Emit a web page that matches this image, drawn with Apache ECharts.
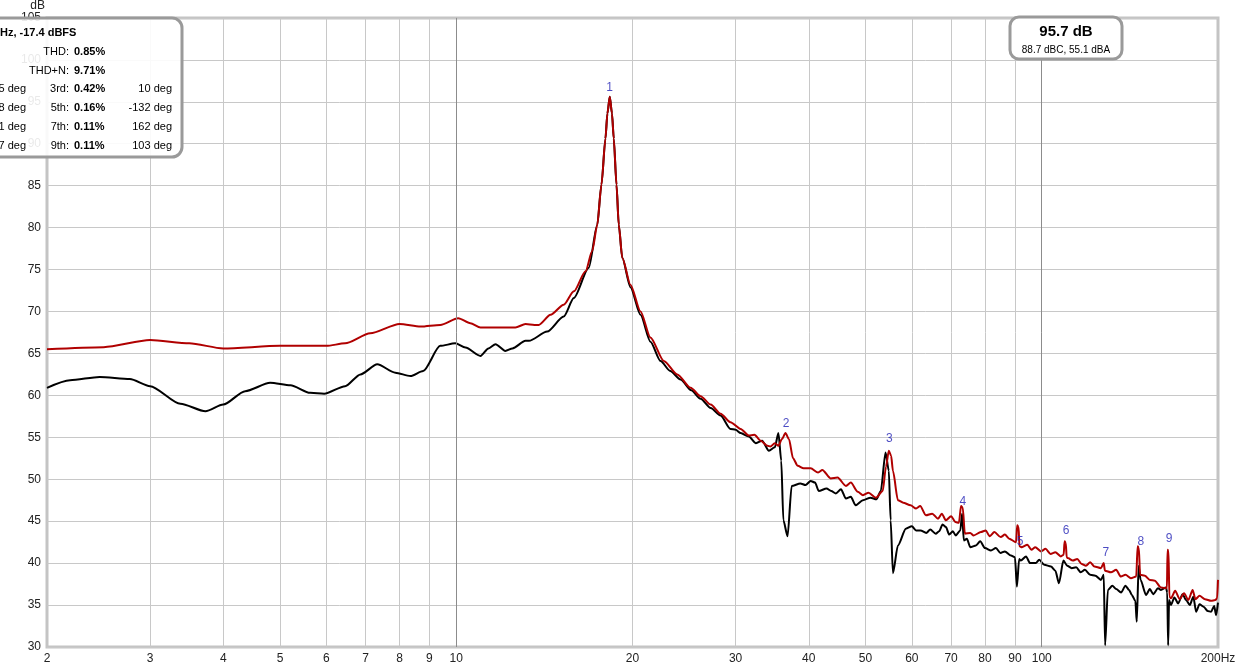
<!DOCTYPE html>
<html><head><meta charset="utf-8">
<script src="https://cdn.jsdelivr.net/npm/echarts@6/dist/echarts.min.js"></script>
<style>html,body{margin:0;padding:0;background:#fff}#c{width:1240px;height:669px}</style>
</head><body><div id="c"></div>
<script>
// ---- data (Hz, dB) ----
const redFreq = [2.0,2.5,3.0,3.5,4.0,5.0,6.0,6.46,7.13,8.0,8.69,9.39,10.08,10.57,11.0,11.9,12.62,13.13,13.6,13.83,14.49,15.26,15.88,16.63,17.07,17.41,17.70,17.98,18.12,18.29,18.45,18.58,18.78,18.95,19.21,19.84,20.64,21.46,22.62,23.85,25.14,26.14,27.2,28.28,29.4,30.6,31.6,32.3,33.1,34.0,34.4,35.0,35.5,36.0,36.5,37.0,37.6,38.3,39.2,40.3,41.5,42.2,43.6,44.8,46.3,47.2,48.5,49.5,50.6,52.1,53.5,54.2,54.8,55.3,55.7,56.8,58.0,59.7,61.0,62.0,63.4,65.0,66.5,67.5,68.6,70.0,71.2,72.2,72.8,73.3,73.9,75.5,76.5,78.7,80.2,81.5,83.0,85.1,86.5,88.0,90.4,90.8,91.3,91.6,92.5,94.5,96.0,97.5,99.7,101.5,103.5,105.5,107.8,109.0,109.4,109.9,110.3,110.8,113.0,115.0,117.0,119.0,121.0,123.0,126.2,127.6,128.2,131.3,134.0,136.5,139.0,142.0,145.0,145.8,146.5,147.2,150.0,153.0,156.0,159.8,163.6,164.0,164.6,165.2,166.2,169.0,172.0,175.0,178.0,181.0,183.0,186.0,190.0,194.6,198.0,199.3,200.0];
const redDb = [65.5,65.75,66.6,66.2,65.6,65.9,65.9,66.2,67.4,68.5,68.2,68.4,69.2,68.6,68.1,68.1,68.1,68.5,68.4,68.4,69.6,70.8,72.4,74.8,77.2,80.3,85.1,90.6,93.6,95.6,93.6,90.6,85.1,80.3,76.4,73.2,70.0,66.9,64.1,62.5,60.9,59.9,58.9,57.8,56.8,56.0,55.2,55.3,54.6,54.0,53.9,54.3,54.0,54.8,55.5,54.8,52.5,51.6,51.3,51.3,50.8,51.1,50.1,50.2,49.2,49.6,48.5,48.1,48.4,47.8,48.6,51.5,53.4,52.8,51.0,47.5,47.2,46.9,46.5,46.8,45.7,45.9,45.3,45.9,45.1,45.6,44.9,44.8,46.8,46.6,43.5,43.6,43.3,43.7,43.9,43.2,43.7,43.1,43.4,42.9,42.5,44.5,44.3,42.0,41.9,42.2,41.6,41.9,41.4,41.7,41.1,41.3,40.8,41.0,42.6,42.4,40.7,40.6,40.3,40.5,39.9,39.7,40.1,39.6,39.4,40.0,39.1,38.9,39.2,38.4,38.6,38.2,38.4,42.0,41.8,38.6,38.5,38.0,37.9,37.1,37.0,41.6,41.5,36.0,35.8,36.7,35.7,36.4,35.6,36.8,35.7,36.1,35.7,35.5,35.6,35.8,38.0];
const blackFreq = [2.0,2.19,2.46,2.77,3.0,3.38,3.73,4.0,4.36,4.81,5.21,5.63,5.95,6.46,6.86,7.33,7.87,8.35,8.78,9.39,9.96,10.37,11.0,11.35,11.67,12.13,12.47,13.13,13.31,14.3,15.26,15.88,16.84,17.41,17.70,17.98,18.12,18.29,18.45,18.58,18.78,18.95,19.21,19.84,20.64,21.46,22.33,23.2,24.16,25.2,26.14,27.2,28.28,29.4,30.0,30.6,31.6,32.5,33.3,34.2,35.0,35.5,35.9,36.2,36.8,37.4,38.7,39.5,40.3,41.0,41.6,42.9,43.7,44.5,45.4,46.3,47.2,48.1,49.5,51.0,52.2,53.1,54.1,54.8,55.2,55.7,56.8,58.6,60.0,61.0,62.1,63.5,64.5,65.9,66.8,67.7,68.6,69.5,70.5,71.3,72.6,73.1,73.6,74.5,75.5,77.2,78.5,80.0,81.9,83.5,85.0,86.5,88.6,90.0,90.7,91.5,92.1,94.0,95.5,97.7,99.0,101.0,103.7,105.5,107.0,108.9,110.5,112.5,114.5,116.6,118.5,121.0,123.5,126.2,127.6,128.3,129.7,132.0,134.0,136.6,139.0,141.0,142.5,144.5,145.3,146.4,147.5,150.7,153.0,155.0,158.0,159.8,163.0,163.8,164.4,165.0,166.2,168.5,171.0,174.0,176.4,179.0,181.5,183.5,186.0,189.0,192.0,194.6,197.0,198.5,200.0];
const blackDb = [60.9,61.8,62.2,61.95,61.1,59.0,58.1,58.9,60.5,61.5,61.2,60.3,60.2,61.1,62.5,63.7,62.7,62.3,62.9,65.9,66.2,65.7,64.7,65.6,66.1,65.3,65.6,66.5,66.5,67.6,69.4,71.6,75.2,80.3,85.1,90.6,93.6,95.6,93.6,90.6,85.1,80.3,76.4,72.9,69.6,66.4,64.1,62.9,61.9,60.6,59.6,58.5,57.6,56.0,55.9,55.5,55.1,54.3,54.6,53.4,53.8,55.5,52.2,45.1,43.2,49.2,49.5,49.3,49.8,49.6,48.6,48.9,48.6,48.3,48.8,47.7,47.9,46.9,47.5,47.8,47.6,48.6,53.2,51.0,45.1,38.8,42.1,44.1,44.4,43.9,43.9,43.6,44.0,43.5,43.8,44.6,44.3,43.4,43.8,43.3,43.9,45.9,42.7,42.9,41.9,42.1,42.6,41.8,41.5,41.8,41.2,41.4,40.9,40.7,37.2,40.5,40.3,40.8,40.0,40.0,40.4,39.8,39.6,39.1,37.6,40.3,39.7,39.4,39.5,38.9,39.2,38.6,38.5,38.0,38.6,30.2,36.8,37.3,36.9,36.5,37.3,36.8,36.2,35.5,33.0,39.7,38.0,36.2,36.9,36.3,37.0,36.8,37.1,36.5,30.2,35.6,35.0,35.9,35.2,36.3,35.6,35.0,36.0,34.2,35.1,34.8,34.3,34.2,34.9,33.8,35.3];
const harmonicNames = ['1','2','3','4','5','6','7','8','9'];
const harmonicLabelFreq = [18.27,36.6,54.9,73.3,91.8,110,128.7,147.6,165];
const harmonicLabelDb = [96.7,56.6,54.8,47.3,42.6,43.9,41.2,42.6,42.9];
const xTickValues = [2,3,4,5,6,7,8,9,10,20,30,40,50,60,70,80,90,100,200];
const xGridValues = [3,4,5,6,7,8,9,10,20,30,40,50,60,70,80,90,100];
const xDarkGrid = [10,100];
const yMin = 30, yMax = 105, yStep = 5;
const infoTitle = 'Hz, -17.4 dBFS';
const thdText = ['THD:', '0.85%'];
const thdnText = ['THD+N:', '9.71%'];
const harmRows = [['5 deg','3rd:','0.42%','10 deg'],['8 deg','5th:','0.16%','-132 deg'],['1 deg','7th:','0.11%','162 deg'],['7 deg','9th:','0.11%','103 deg']];
const splText = '95.7 dB';
const splSub = '88.7 dBC, 55.1 dBA';

const zip = (a,b) => a.map((v,i)=>[v,b[i]]);
const FONT = 'Liberation Sans, Arial, sans-serif';

const chart = echarts.init(document.getElementById('c'), null, {renderer:'canvas'});

const leftTexts = [];
leftTexts.push({type:'text', x:0, y:33, style:{text:infoTitle, font:'bold 11px '+FONT, fill:'#000', verticalAlign:'middle'}});
function rowText(y, a, b){
  leftTexts.push({type:'text', x:69, y:y, style:{text:a, font:'11px '+FONT, fill:'#000', align:'right', verticalAlign:'middle'}});
  leftTexts.push({type:'text', x:74, y:y, style:{text:b, font:'bold 11px '+FONT, fill:'#000', align:'left', verticalAlign:'middle'}});
}
rowText(52, thdText[0], thdText[1]);
rowText(71, thdnText[0], thdnText[1]);
const rowY = [89,108,127,146];
harmRows.forEach((r,i)=>{
  leftTexts.push({type:'text', x:26, y:rowY[i], style:{text:r[0], font:'11px '+FONT, fill:'#000', align:'right', verticalAlign:'middle'}});
  rowText(rowY[i], r[1], r[2]);
  leftTexts.push({type:'text', x:172, y:rowY[i], style:{text:r[3], font:'11px '+FONT, fill:'#000', align:'right', verticalAlign:'middle'}});
});

const option = {
  animation:false,
  backgroundColor:'#fff',
  grid:{left:47, right:22, top:15, bottom:22, containLabel:false, show:true, borderColor:'#c4c4c4', borderWidth:3, backgroundColor:'transparent'},
  xAxis:{
    type:'log', logBase:10, min:2, max:200,
    axisLine:{show:false},
    axisTick:{show:false, customValues:xGridValues},
    splitLine:{show:true, lineStyle:{color:'#c8c8c8', width:1}},
    axisLabel:{customValues:xTickValues, color:'#222', fontFamily:FONT, fontSize:12, margin:6,
      formatter:v => (v===200 ? '200Hz' : String(v)), hideOverlap:false}
  },
  yAxis:{
    type:'value', min:yMin, max:yMax, interval:yStep,
    name:'dB', nameLocation:'end', nameGap:2, nameTextStyle:{color:'#222', fontFamily:FONT, fontSize:12, align:'right', padding:[0,2,0,0]},
    axisLine:{show:false}, axisTick:{show:false},
    splitLine:{show:true, lineStyle:{color:'#c8c8c8', width:1}},
    axisLabel:{color:'#222', fontFamily:FONT, fontSize:12, margin:6}
  },
  series:[
    {type:'line', data:[], silent:true,
      markLine:{silent:true, symbol:'none', label:{show:false}, lineStyle:{color:'#8c8c8c', width:1, type:'solid'},
        data:xDarkGrid.map(v=>({xAxis:v}))}},
    {type:'line', name:'black', data:zip(blackFreq, blackDb), showSymbol:false, smooth:0.25, smoothMonotone:'x',
      lineStyle:{color:'#000', width:2}, z:3},
    {type:'line', name:'red', data:zip(redFreq, redDb), showSymbol:false, smooth:0.25, smoothMonotone:'x',
      lineStyle:{color:'#b00000', width:2}, z:4},
    {type:'scatter', data:harmonicLabelFreq.map((f,i)=>({value:[f, harmonicLabelDb[i]], name:harmonicNames[i]})),
      symbolSize:1, itemStyle:{color:'transparent'}, z:20,
      labelLayout:{hideOverlap:false},
      label:{show:true, position:'inside', formatter:p=>p.name, color:'#1e1eb4', fontFamily:FONT, fontSize:12}}
  ],
  graphic:[
    {type:'group', z:100, children:[
      {type:'rect', z:100, shape:{x:-12, y:18, width:194, height:139, r:10}, style:{fill:'rgba(255,255,255,0.9)', stroke:'#9a9a9a', lineWidth:3}},
      ...leftTexts.map(t=>Object.assign(t,{z:101}))
    ]},
    {type:'group', z:100, children:[
      {type:'rect', z:100, shape:{x:1010, y:17, width:112, height:42, r:9}, style:{fill:'#fff', stroke:'#9a9a9a', lineWidth:3}},
      {type:'text', z:101, x:1066, y:32, style:{text:splText, font:'bold 15px '+FONT, fill:'#000', align:'center', verticalAlign:'middle'}},
      {type:'text', z:101, x:1066, y:50, style:{text:splSub, font:'10px '+FONT, fill:'#000', align:'center', verticalAlign:'middle'}}
    ]}
  ]
};
chart.setOption(option);
</script></body></html>
